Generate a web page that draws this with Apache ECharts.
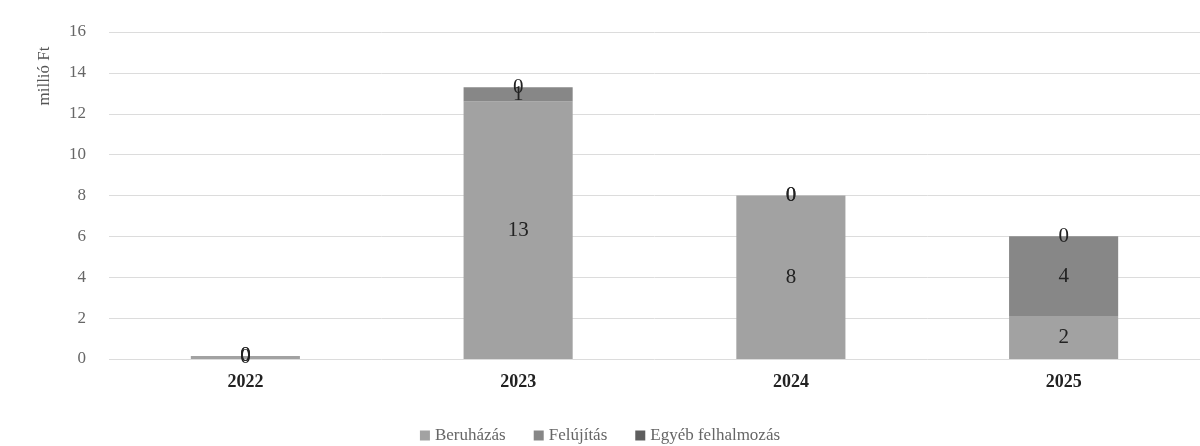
<!DOCTYPE html>
<html><head><meta charset="utf-8">
<script src="https://cdn.jsdelivr.net/npm/echarts@6/dist/echarts.min.js"></script>
<style>html,body{margin:0;padding:0;background:#fff}#c{width:1200px;height:446px}</style>
</head><body><div id="c"></div>
<script>
const categories = ['2022', '2023', '2024', '2025'];
const beruhazas = [0.15, 12.6, 8.0, 2.1];
const felujitas = [0, 0.7, 0, 3.9];
const egyeb = [0, 0, 0, 0];
const seriesNames = ['Beruházás', 'Felújítás', 'Egyéb felhalmozás'];
const yTicks = {min: 0, max: 16, interval: 2};

const font = 'Liberation Serif, DejaVu Serif, serif';
const colors = ['#a2a2a2', '#878787', '#5e5e5e'];
function mk(name, data, color) {
  return {
    name, type: 'bar', stack: 'total', data, barWidth: '40%',
    itemStyle: {color},
    label: {show: true, position: 'inside', fontFamily: font, fontSize: 21, color: '#222',
      formatter: p => Math.round(p.value)},
    labelLayout: {hideOverlap: false}
  };
}
const chart = echarts.init(document.getElementById('c'));
chart.setOption({
  animation: false,
  color: colors,
  grid: {left: 109, right: -10, top: 32, bottom: 87, containLabel: false},
  legend: {bottom: -3, left: 'center', itemWidth: 10, itemHeight: 10, itemGap: 28,
    icon: 'rect', textStyle: {fontFamily: font, fontSize: 17, color: '#666'},
    data: seriesNames},
  xAxis: {type: 'category', data: categories,
    axisLine: {show: false}, axisTick: {show: false},
    axisLabel: {fontFamily: font, fontSize: 18, fontWeight: 'bold', color: '#222', margin: 14}},
  yAxis: {type: 'value', min: yTicks.min, max: yTicks.max, interval: yTicks.interval,
    axisLine: {show: false}, axisTick: {show: false},
    axisLabel: {fontFamily: font, fontSize: 17, color: '#666', margin: 23},
    splitLine: {lineStyle: {color: '#dcdcdc', width: 1}}},
  graphic: [{type: 'text', x: 45, y: 76, rotation: Math.PI / 2,
    style: {text: 'millió Ft', fontFamily: font, fontSize: 17, fill: '#555',
      textAlign: 'center', textVerticalAlign: 'middle'}}],
  series: [mk(seriesNames[0], beruhazas, colors[0]), mk(seriesNames[1], felujitas, colors[1]), mk(seriesNames[2], egyeb, colors[2])]
});
</script></body></html>
